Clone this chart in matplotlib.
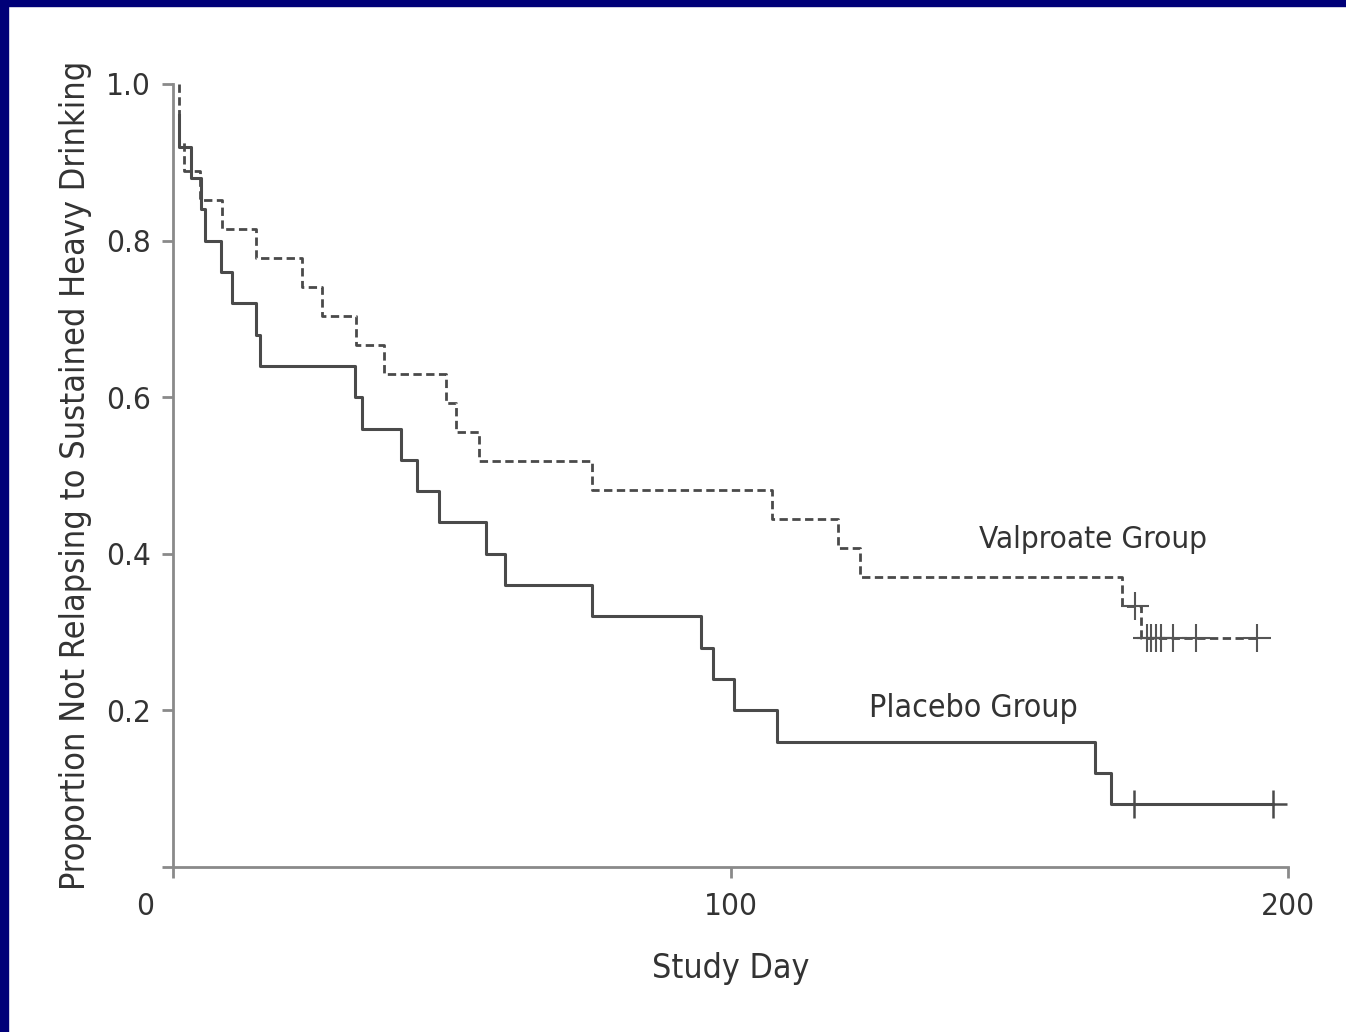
import matplotlib
matplotlib.use("Agg")
from matplotlib import pyplot as plt
from matplotlib import font_manager as fm
from matplotlib.transforms import ScaledTranslation

# Kaplan-Meier steps (day, proportion after the drop)
placebo_days = [1, 1, 3.2, 5.0, 5.7, 8.6, 10.6, 14.9, 15.6, 32.6, 33.9, 40.9, 43.8,
                47.7, 56.1, 59.6, 75.2, 94.7, 96.9, 100.6, 108.3, 165.3, 168.3, 197.3]
placebo_surv = [0.96, 0.92, 0.88, 0.84, 0.80, 0.76, 0.72, 0.68, 0.64, 0.60, 0.56, 0.52, 0.48,
                0.44, 0.40, 0.36, 0.32, 0.28, 0.24, 0.20, 0.16, 0.12, 0.08, 0.08]
placebo_cens_days = [172.3, 197.3]
placebo_cens_surv = [0.08, 0.08]

valp_days = [1, 1, 2.0, 4.8, 8.8, 14.9, 23.1, 26.7, 32.8, 37.9, 49.0, 50.8, 54.9,
             75.2, 107.4, 119.3, 123.2, 170.3, 173.6, 194.4]
valp_surv = [1.0, 0.926, 0.889, 0.852, 0.815, 0.778, 0.741, 0.704, 0.667, 0.630, 0.593,
             0.556, 0.519, 0.481, 0.444, 0.407, 0.370, 0.333, 0.292, 0.292]
valp_cens_days = [172.6, 174.7, 175.4, 176.3, 177.2, 179.4, 183.5, 194.4]
valp_cens_surv = [0.333, 0.292, 0.292, 0.292, 0.292, 0.292, 0.292, 0.292]

xticks = [0, 100, 200]
yticks = [0, 0.2, 0.4, 0.6, 0.8, 1.0]
ytick_labels = ["", "0.2", "0.4", "0.6", "0.8", "1.0"]

# the reference uses a condensed sans; use one if the system has it
stretch = "normal"
for f in fm.fontManager.ttflist:
    if f.name == "DejaVu Sans" and "Condensed" in f.fname and f.weight in (400, "normal"):
        stretch = "condensed"
        break
plt.rcParams['font.family'] = ['DejaVu Sans']
plt.rcParams['font.stretch'] = stretch

fig = plt.figure(figsize=(13.46, 10.32), dpi=100)
fig.patch.set_facecolor("white")

# navy frame on the top and left edge
fig.patches.append(plt.Rectangle((0, 1 - 6 / 1032), 1, 6 / 1032, transform=fig.transFigure,
                                 color="#000078", zorder=0))
fig.patches.append(plt.Rectangle((0, 0), 8 / 1346, 1, transform=fig.transFigure,
                                 color="#000078", zorder=0))

ax = fig.add_axes([173 / 1346, 165 / 1032, (1288 - 173) / 1346, (948 - 165) / 1032])

line_col = "#4a4a4a"
ax.step(placebo_days, placebo_surv, where="post", color=line_col, lw=2.2)
ax.step(valp_days, valp_surv, where="post", color=line_col, lw=2.0,
        linestyle=(0, (3, 1.6)))
ax.plot(placebo_cens_days, placebo_cens_surv, linestyle="none", marker="+",
        markersize=20, mew=1.8, color=line_col)
ax.plot(valp_cens_days, valp_cens_surv, linestyle="none", marker="+",
        markersize=20, mew=1.5, color="#555555")

ax.set_xlim(0, 200)
ax.set_ylim(0, 1.0)
for s in ["top", "right"]:
    ax.spines[s].set_visible(False)
for s in ["left", "bottom"]:
    ax.spines[s].set_color("#8a8a8a")
    ax.spines[s].set_linewidth(2.0)

ax.set_xticks(xticks)
ax.set_xticklabels([str(t) for t in xticks])
ax.set_yticks(yticks)
ax.set_yticklabels(ytick_labels)
ax.tick_params(axis="both", direction="out", length=8, width=2.0, color="#8a8a8a",
               labelsize=25, labelcolor="#333333")
ax.tick_params(axis="x", pad=10)
ax.tick_params(axis="y", pad=8)

# the "0" on the x axis sits left of the spine
lab0 = ax.get_xticklabels()[0]
lab0.set_transform(lab0.get_transform() + ScaledTranslation(-0.28, 0, fig.dpi_scale_trans))

ax.set_xlabel("Study Day", fontsize=27, color="#333333", labelpad=22)
ax.set_ylabel("Proportion Not Relapsing to Sustained Heavy Drinking", fontsize=27,
              color="#333333", labelpad=10)

t_valp = ax.text(165, 0.418, "Valproate Group", fontsize=27, color="#333333",
                 ha="center", va="center")
t_plac = ax.text(143.5, 0.203, "Placebo Group", fontsize=27, color="#333333",
                 ha="center", va="center")


def fit(txt, target, vertical=False):
    # shrink a text so that its length in pixels is about the reference one
    r = fig.canvas.get_renderer()
    bb = txt.get_window_extent(r)
    size = bb.height if vertical else bb.width
    if size > target:
        txt.set_fontsize(txt.get_fontsize() * target / size)


fig.canvas.draw()
fit(ax.yaxis.label, 827, vertical=True)
fit(ax.xaxis.label, 157)
fit(t_valp, 228)
fit(t_plac, 208)
fig.canvas.draw()
r = fig.canvas.get_renderer()
w100 = ax.get_xticklabels()[1].get_window_extent(r).width
if w100 > 54:
    ax.tick_params(labelsize=25 * 54 / w100)

fig.savefig("out.png", dpi=100)
